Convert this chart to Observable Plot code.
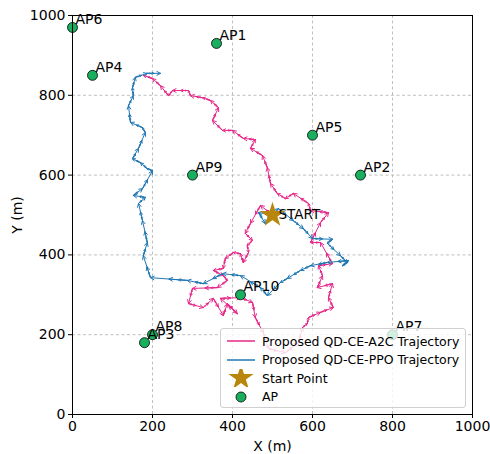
<!DOCTYPE html>
<html>
<head>
<meta charset="utf-8">
<script src="https://cdn.jsdelivr.net/npm/d3@7"></script>
<script src="https://cdn.jsdelivr.net/npm/@observablehq/plot@0.6"></script>
<style>
  html, body { margin: 0; padding: 0; background: #fff; }
  #chart { position: relative; width: 490px; height: 454px; font-family: "DejaVu Sans", sans-serif; }
  #legend {
    position: absolute; left: 220px; top: 328px; width: 246px; height: 80px;
    background: rgba(255,255,255,0.8); border: 1px solid #d0d0d0; border-radius: 3px;
    font-size: 12.5px; color: #000; box-sizing: border-box;
  }
  .row { position: absolute; left: 0; height: 18px; display: flex; align-items: center; }
  .row svg { margin-left: 6px; margin-right: 7px; }
</style>
</head>
<body>
<div id="chart"></div>
<script>
// Access points
const apNames = ["AP1", "AP2", "AP3", "AP4", "AP5", "AP6", "AP7", "AP8", "AP9", "AP10"];
const apX = [360, 720, 180, 50, 600, 0, 800, 200, 300, 420];
const apY = [930, 600, 180, 850, 700, 970, 200, 200, 600, 300];

// Start point
const startX = [500];
const startY = [500];

// QD-CE-A2C trajectory
const a2cX = [500, 470, 445, 432, 450, 437, 440, 427, 420, 402, 382, 377, 352, 377, 387, 362, 300, 290, 327, 352, 377, 387, 412, 370, 420, 450, 457, 477, 490, 532, 565, 575, 587, 590, 620, 652, 640, 650, 612, 625, 615, 650, 620, 595, 620, 640, 595, 590, 552, 532, 512, 495, 487, 475, 445, 457, 427, 400, 375, 350, 365, 345, 325, 295, 290, 250, 240, 220, 200, 177];
const a2cY = [500, 524, 479, 454, 436, 424, 406, 381, 403, 406, 391, 366, 361, 348, 336, 318, 316, 278, 268, 291, 248, 278, 253, 291, 293, 281, 243, 205, 165, 155, 180, 218, 228, 243, 256, 268, 293, 328, 318, 348, 373, 378, 431, 431, 481, 506, 511, 529, 554, 541, 554, 579, 619, 649, 667, 689, 692, 712, 712, 737, 769, 787, 794, 799, 812, 812, 799, 824, 842, 850];

// QD-CE-PPO trajectory
const ppoX = [500, 465, 482, 495, 515, 552, 577, 600, 650, 637, 670, 687, 675, 690, 637, 595, 570, 537, 520, 487, 470, 420, 375, 327, 287, 195, 177, 187, 175, 165, 182, 152, 175, 200, 187, 170, 150, 165, 182, 175, 145, 140, 152, 150, 157, 187, 220];
const ppoY = [500, 506, 479, 499, 516, 486, 466, 441, 439, 429, 398, 381, 373, 386, 381, 373, 361, 341, 331, 298, 318, 348, 353, 328, 336, 343, 398, 431, 486, 529, 544, 549, 566, 611, 616, 631, 641, 667, 707, 719, 732, 774, 799, 819, 845, 855, 855];

const ticks = [0, 200, 400, 600, 800, 1000];

const a2cColor = "#e7298a";
const ppoColor = "#1f77b4";
const starColor = "#b8860b";
const apColor = "#1aaf5f";

const aps = apNames.map((name, i) => ({name, x: apX[i], y: apY[i]}));
const start = startX.map((x, i) => ({x, y: startY[i]}));

// Each step of a trajectory becomes an arrow; shorter arrows along the same
// step add extra heads inside it.
function steps(xs, ys) {
  const out = [];
  for (let i = 0; i + 1 < xs.length; i++) {
    out.push({x1: xs[i], y1: ys[i], x2: xs[i + 1], y2: ys[i + 1]});
  }
  return out;
}
function partial(segs, t) {
  return segs.map(s => ({x1: s.x1, y1: s.y1, x2: s.x1 + (s.x2 - s.x1) * t, y2: s.y1 + (s.y2 - s.y1) * t}));
}
const a2cSteps = steps(a2cX, a2cY);
const ppoSteps = steps(ppoX, ppoY);

function trajectory(segs, color) {
  const opts = {x1: "x1", y1: "y1", x2: "x2", y2: "y2", stroke: color, strokeWidth: 1, headAngle: 55};
  return [
    Plot.arrow(segs, {...opts, headLength: 6}),
    Plot.arrow(partial(segs, 0.5), {...opts, headLength: 6}),
    Plot.arrow(partial(segs, 0.25), {...opts, headLength: 5, strokeOpacity: 0.7})
  ];
}

const plot = Plot.plot({
  width: 490,
  height: 454,
  marginLeft: 72,
  marginRight: 18,
  marginTop: 15,
  marginBottom: 40,
  style: {fontFamily: "DejaVu Sans, sans-serif", fontSize: "14px", color: "#000", background: "#fff", overflow: "visible"},
  x: {domain: [0, 1000], ticks, tickFormat: d => String(d), tickSize: 4, tickPadding: 3, label: "X (m)", labelAnchor: "center", labelArrow: "none", labelOffset: 36},
  y: {domain: [0, 1000], ticks, tickFormat: d => String(d), tickSize: 4, tickPadding: 3, label: "Y (m)", labelAnchor: "center", labelArrow: "none", labelOffset: 60},
  marks: [
    Plot.gridX(ticks, {stroke: "#b0b0b0", strokeOpacity: 1, strokeDasharray: "3,2.5", strokeWidth: 0.8}),
    Plot.gridY(ticks, {stroke: "#b0b0b0", strokeOpacity: 1, strokeDasharray: "3,2.5", strokeWidth: 0.8}),
    ...trajectory(a2cSteps, a2cColor),
    ...trajectory(ppoSteps, ppoColor),
    Plot.dot(start, {x: "x", y: "y", symbol: "star", r: 6.5, fill: starColor, stroke: starColor}),
    Plot.text(start, {x: "x", y: "y", text: () => "START", dx: 6, textAnchor: "start", fontSize: 13.5}),
    Plot.dot(aps, {x: "x", y: "y", r: 5, fill: apColor, stroke: "#000", strokeWidth: 0.8}),
    Plot.text(aps, {x: "x", y: "y", text: "name", dx: 3, dy: -8, textAnchor: "start", fontSize: 14}),
    Plot.frame({stroke: "#000", strokeWidth: 1})
  ]
});
const chart = document.getElementById("chart");
chart.appendChild(plot);

// Legend drawn on top of the plot area
const legendItems = [
  {label: "Proposed QD-CE-A2C Trajectory", kind: "line", color: a2cColor},
  {label: "Proposed QD-CE-PPO Trajectory", kind: "line", color: ppoColor},
  {label: "Start Point", kind: "star", color: starColor},
  {label: "AP", kind: "dot", color: apColor}
];
const legend = document.createElement("div");
legend.id = "legend";
legendItems.forEach((it, i) => {
  const row = document.createElement("div");
  row.className = "row";
  row.style.top = (3 + i * 18.5) + "px";
  const ns = "http://www.w3.org/2000/svg";
  const s = document.createElementNS(ns, "svg");
  s.setAttribute("width", 28); s.setAttribute("height", 18);
  if (it.kind === "line") {
    const l = document.createElementNS(ns, "line");
    l.setAttribute("x1", 0); l.setAttribute("x2", 28); l.setAttribute("y1", 9); l.setAttribute("y2", 9);
    l.setAttribute("stroke", it.color); l.setAttribute("stroke-width", 1.5);
    s.appendChild(l);
  } else if (it.kind === "star") {
    const p = document.createElementNS(ns, "path");
    p.setAttribute("d", d3.symbol(d3.symbolStar, 200)());
    p.setAttribute("transform", "translate(14,9)");
    p.setAttribute("fill", it.color);
    s.appendChild(p);
  } else {
    const c = document.createElementNS(ns, "circle");
    c.setAttribute("cx", 14); c.setAttribute("cy", 9); c.setAttribute("r", 5);
    c.setAttribute("fill", it.color); c.setAttribute("stroke", "#000"); c.setAttribute("stroke-width", 0.8);
    s.appendChild(c);
  }
  row.appendChild(s);
  const t = document.createElement("span");
  t.textContent = it.label;
  row.appendChild(t);
  legend.appendChild(row);
});
chart.appendChild(legend);
</script>
</body>
</html>
